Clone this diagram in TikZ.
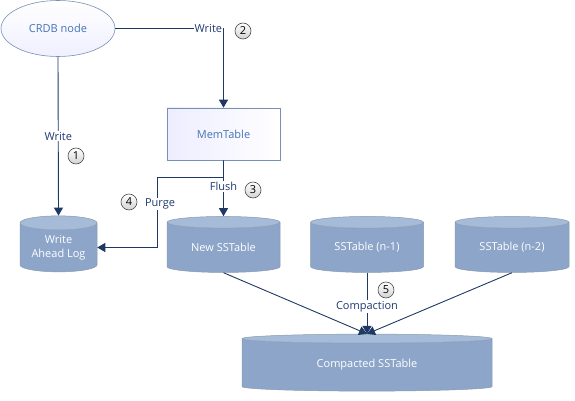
\documentclass[tikz,border=0pt]{standalone}
\usepackage{fontspec}
\setmainfont{Open Sans}
\usetikzlibrary{shapes.geometric,arrows.meta}
\definecolor{flowline}{HTML}{1F3864}
\definecolor{labeltext}{HTML}{1F3A70}
\definecolor{boxtext}{HTML}{4573B5}
\definecolor{boxedge}{HTML}{7890B4}
\definecolor{dbbody}{HTML}{8CA5C9}
\definecolor{dbtop}{HTML}{A6BBD8}
\definecolor{dbedge}{HTML}{8A9AB0}
\tikzset{
	flow/.style = {draw=flowline, line width=0.9pt, -{Triangle[length=8pt,width=9pt]}},
	link/.style = {draw=flowline, line width=0.9pt},
	db/.style = {cylinder, shape border rotate=90, draw=dbedge, line width=0.5pt,
		cylinder uses custom fill, cylinder body fill=dbbody, cylinder end fill=dbtop,
		text=white, align=center, inner sep=0pt, font=\fontsize{11}{14}\selectfont},
	steplabel/.style = {text=labeltext, fill=white, inner sep=1pt, font=\fontsize{11}{13}\selectfont},
	stepnum/.style = {circle, draw=gray!60!black, line width=0.6pt, top color=white, bottom color=gray!35,
		minimum size=16pt, inner sep=0pt, font=\fontsize{11}{11}\selectfont}
}
\begin{document}
\begin{tikzpicture}[x=1pt,y=-1pt]
	\useasboundingbox (0,0) rectangle (575,401);
	% nodes
	\node[ellipse, draw=boxedge, line width=0.6pt, top color=white, bottom color=blue!6,
		minimum width=114pt, minimum height=56pt, text=boxtext, font=\fontsize{11}{13}\selectfont]
		(crdb) at (58,28.5) {CRDB node};
	\node[rectangle, draw=boxedge, line width=0.6pt, left color=blue!7, right color=white,
		minimum width=113pt, minimum height=52pt, text=boxtext, font=\fontsize{11}{13}\selectfont]
		(mem) at (223.5,134) {MemTable};
	\node[db, minimum width=77pt, minimum height=56pt, aspect=0.26] (wal) at (58.5,247.5) {Write\\Ahead Log};
	\node[db, minimum width=113pt, minimum height=56pt, aspect=0.18] (newss) at (223.5,247.5) {New SSTable};
	\node[db, minimum width=113pt, minimum height=56pt, aspect=0.18] (ssa) at (367,247.5) {SSTable (n-1)};
	\node[db, minimum width=114pt, minimum height=56pt, aspect=0.18] (ssb) at (512,247.5) {SSTable (n-2)};
	\node[db, minimum width=250pt, minimum height=57pt, aspect=0.09] (comp) at (367,365) {Compacted SSTable};
	% write paths
	\draw[flow] (crdb.east) -| node[steplabel, anchor=east, pos=0.5] {Write} (mem.north);
	\draw[flow] (crdb.south) -- node[steplabel, pos=0.5] {Write} (wal.north);
	\node[stepnum] (n1) at (76,156) {1};
	\node[stepnum] (n2) at (243,31) {2};
	% flush and purge
	\coordinate (split) at (223.5,177);
	\coordinate (bend) at (157,177);
	\draw[flow] (mem.south) -- node[steplabel, pos=0.47] {Flush} (newss.north);
	\draw[link] (split) -- (bend);
	\draw[flow] (bend) |- node[steplabel, pos=0.19, xshift=3pt] {Purge} (wal.east);
	\node[stepnum] (n3) at (253,190) {3};
	\node[stepnum] (n4) at (129,202) {4};
	% compaction
	\draw[flow] (newss.south) -- (comp.north);
	\draw[flow] (ssb.south) -- (comp.north);
	\draw[flow] (ssa.south) -- node[steplabel, pos=0.55] {Compaction} (comp.north);
	\node[stepnum] (n5) at (386,290) {5};
\end{tikzpicture}
\end{document}
